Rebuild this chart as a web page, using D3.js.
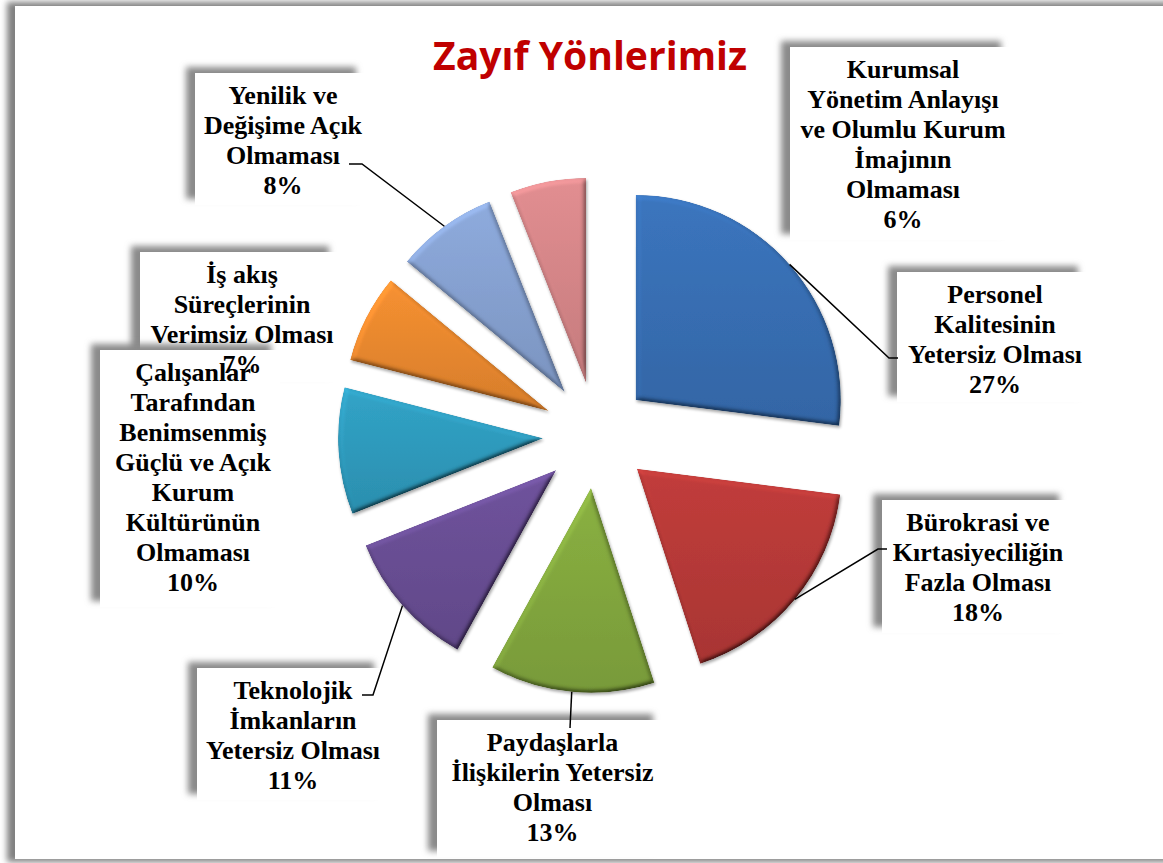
<!DOCTYPE html>
<html lang="tr">
<head>
  <meta charset="UTF-8" />
  <title>Zayıf Yönlerimiz</title>
  <script src="https://d3js.org/d3.v7.min.js"></script>
  <style>
    body { margin: 0; background: #fff; }
    .lbl { font-family: "Liberation Serif", "Times New Roman", serif; font-weight: bold; font-size: 26px; fill: #000; }
    .title { font-family: "Open Sans", sans-serif; font-weight: bold; font-size: 39px; fill: #c00000; }
  </style>
</head>
<body>
  <div id="chart"></div>
  <script>
    const width = 1163, height = 863;

    // data, clockwise from 12 o'clock
    const categories = [
      "Personel|Kalitesinin|Yetersiz Olması",
      "Bürokrasi ve|Kırtasiyeciliğin|Fazla Olması",
      "Paydaşlarla|İlişkilerin Yetersiz|Olması",
      "Teknolojik|İmkanların|Yetersiz Olması",
      "Çalışanlar|Tarafından|Benimsenmiş|Güçlü ve Açık|Kurum|Kültürünün|Olmaması",
      "İş akış|Süreçlerinin|Verimsiz Olması",
      "Yenilik ve|Değişime Açık|Olmaması",
      "Kurumsal|Yönetim Anlayışı|ve Olumlu Kurum|İmajının|Olmaması"
    ];
    const values = [27, 18, 13, 11, 10, 7, 8, 6];
    const colors = ["#3870b5", "#b93a38", "#84a93f", "#6a4f96", "#2f9cbf", "#ec8a2f", "#88a3d3", "#d8888a"];

    // label box layout (x, y, w, h) and leader elbow / end
    const boxes = [
      {x: 897, y: 272, w: 190, h: 130, elbow: [889, 358], end: [898, 358]},
      {x: 882, y: 500, w: 186, h: 133, elbow: [878, 549], end: [887, 549]},
      {x: 437, y: 720, w: 225, h: 137, elbow: [570, 728], end: [570, 728]},
      {x: 197, y: 668, w: 186, h: 132, elbow: [373, 695], end: [362, 695]},
      {x: 100, y: 350, w: 180, h: 257, elbow: null},
      {x: 140, y: 252, w: 198, h: 130, elbow: null},
      {x: 195, y: 73, w: 170, h: 132, elbow: [362, 164], end: [349, 164]},
      {x: 790, y: 47, w: 220, h: 193, elbow: null}
    ];
    const drawOrder = [5, 4, 6, 7, 0, 1, 2, 3];

    const cx = 596, cy = 435, radius = 205, explode = 53;

    const svg = d3.select("#chart").append("svg")
      .attr("width", width)
      .attr("height", height);

    const defs = svg.append("defs");

    const shadow = defs.append("filter").attr("id", "boxShadow")
      .attr("x", "-20%").attr("y", "-20%").attr("width", "140%").attr("height", "140%");
    shadow.append("feGaussianBlur").attr("stdDeviation", 3);

    const bevel = defs.append("filter").attr("id", "bevel")
      .attr("x", "-10%").attr("y", "-10%").attr("width", "120%").attr("height", "120%");
    bevel.append("feGaussianBlur").attr("in", "SourceAlpha").attr("stdDeviation", 2.5).attr("result", "blur");
    bevel.append("feDiffuseLighting").attr("in", "blur").attr("surfaceScale", 3.5)
      .attr("diffuseConstant", 1).attr("lighting-color", "#fff").attr("result", "light")
      .append("feDistantLight").attr("azimuth", 235).attr("elevation", 55);
    bevel.append("feComposite").attr("in", "SourceGraphic").attr("in2", "light")
      .attr("operator", "arithmetic").attr("k1", 1.2).attr("k2", 0).attr("k3", 0).attr("k4", 0)
      .attr("result", "lit");
    bevel.append("feComposite").attr("in", "lit").attr("in2", "SourceAlpha").attr("operator", "in").attr("result", "litIn");
    bevel.append("feGaussianBlur").attr("in", "SourceAlpha").attr("stdDeviation", 1.5).attr("result", "sb");
    bevel.append("feOffset").attr("in", "sb").attr("dx", 1).attr("dy", 2).attr("result", "so");
    bevel.append("feComponentTransfer").attr("in", "so").attr("result", "sf")
      .append("feFuncA").attr("type", "linear").attr("slope", 0.35);
    const merge = bevel.append("feMerge");
    merge.append("feMergeNode").attr("in", "sf");
    merge.append("feMergeNode").attr("in", "litIn");

    colors.forEach((c, i) => {
      const g = defs.append("linearGradient").attr("id", "grad" + i)
        .attr("x1", 0).attr("y1", 0).attr("x2", 0).attr("y2", 1);
      g.append("stop").attr("offset", "0%").attr("stop-color", d3.color(c).brighter(0.15));
      g.append("stop").attr("offset", "100%").attr("stop-color", d3.color(c).darker(0.25));
    });

    // outer panel
    svg.append("rect").attr("x", 7).attr("y", 2).attr("width", width).attr("height", 860)
      .attr("fill", "#808080").attr("filter", "url(#boxShadow)");
    svg.append("rect").attr("x", 15).attr("y", 6).attr("width", width).attr("height", 853)
      .attr("fill", "#fff");

    // label boxes
    drawOrder.forEach(i => {
      const b = boxes[i];
      svg.append("rect").attr("x", b.x - 9).attr("y", b.y - 6).attr("width", b.w).attr("height", b.h)
        .attr("fill", "#8a8a8a").attr("filter", "url(#boxShadow)");
      svg.append("rect").attr("x", b.x).attr("y", b.y).attr("width", b.w).attr("height", b.h)
        .attr("fill", "#fff");
    });

    // title
    svg.append("text").attr("class", "title")
      .attr("x", 433).attr("y", 70)
      .attr("textLength", 314).attr("lengthAdjust", "spacingAndGlyphs")
      .text("Zayıf Yönlerimiz");

    // pie
    const pie = d3.pie().sort(null).value(d => d)(values);
    const arc = d3.arc().innerRadius(0).outerRadius(radius);
    const mid = d => (d.startAngle + d.endAngle) / 2;

    const slices = svg.append("g").attr("transform", `translate(${cx},${cy})`);
    slices.selectAll("path")
      .data(pie)
      .enter()
      .append("path")
      .attr("d", arc)
      .attr("transform", d => `translate(${Math.sin(mid(d)) * explode},${-Math.cos(mid(d)) * explode})`)
      .attr("fill", (d, i) => `url(#grad${i})`)
      .attr("filter", "url(#bevel)");

    // leader lines
    pie.forEach((d, i) => {
      const b = boxes[i];
      if (!b.elbow) return;
      const a = mid(d);
      const sx = cx + Math.sin(a) * (explode + radius);
      const sy = cy - Math.cos(a) * (explode + radius);
      svg.append("polyline")
        .attr("points", [[sx, sy], b.elbow, b.end].map(p => p.join(",")).join(" "))
        .attr("fill", "none")
        .attr("stroke", "#000")
        .attr("stroke-width", 1.5);
    });

    // label text
    drawOrder.forEach(i => {
      const b = boxes[i];
      const lines = categories[i].split("|").concat([values[i] + "%"]);
      const t = svg.append("text").attr("class", "lbl").attr("text-anchor", "middle");
      lines.forEach((ln, k) => {
        t.append("tspan")
          .attr("x", b.x + b.w / 2 + 3)
          .attr("y", b.y + 31 + k * 30)
          .text(ln);
      });
    });
  </script>
</body>
</html>
